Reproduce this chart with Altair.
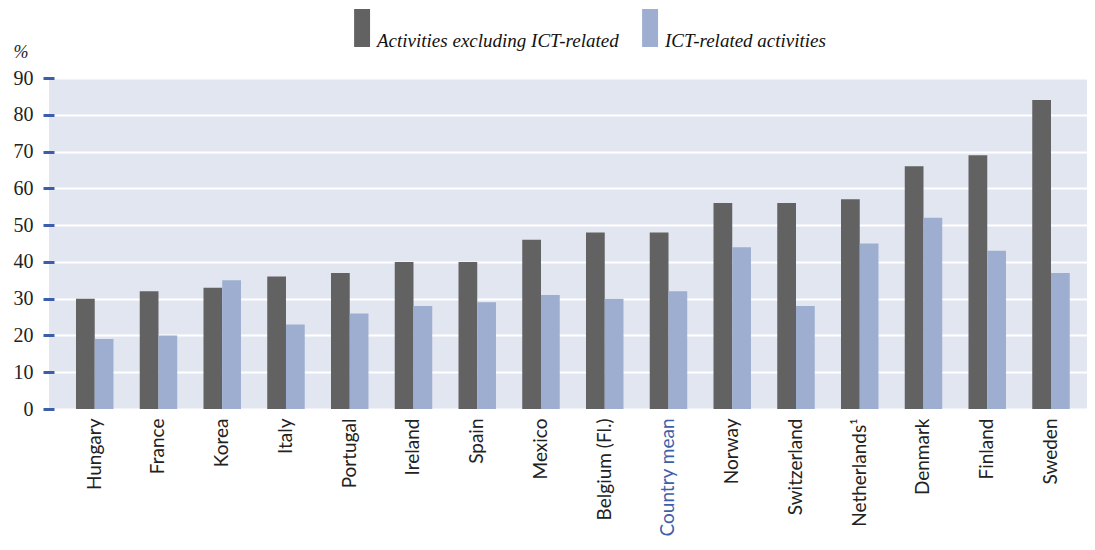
import altair as alt
import pandas as pd

countries = ["Hungary", "France", "Korea", "Italy", "Portugal", "Ireland", "Spain",
             "Mexico", "Belgium (Fl.)", "Country mean", "Norway", "Switzerland",
             "Netherlands¹", "Denmark", "Finland", "Sweden"]
excl_ict = [30, 32, 33, 36, 37, 40, 40, 46, 48, 48, 56, 56, 57, 66, 69, 84]
ict = [19, 20, 35, 23, 26, 28, 29, 31, 30, 32, 44, 28, 45, 52, 43, 37]
series = ["Activities excluding ICT-related", "ICT-related activities"]
colors = ["#626262", "#9eaed0"]
y_ticks = [0, 10, 20, 30, 40, 50, 60, 70, 80, 90]

rows = []
for c, a, b in zip(countries, excl_ict, ict):
    rows.append({"country": c, "series": series[0], "value": a})
    rows.append({"country": c, "series": series[1], "value": b})
df = pd.DataFrame(rows)

label_color = "datum.value == 'Country mean' ? '#3d5fa9' : '#222222'"

chart = alt.Chart(df).mark_bar().encode(
    x=alt.X("country:N", sort=countries, title=None,
            scale=alt.Scale(paddingInner=0.412, paddingOuter=0.347, align=0.61),
            axis=alt.Axis(labelAngle=-90, labelAlign="right", labelBaseline="middle",
                          labelPadding=9, ticks=False, domain=False, labelFont="Lato",
                          labelFontSize=19, labelColor=alt.ExprRef(label_color),
                          labelLimit=300)),
    xOffset=alt.XOffset("series:N", sort=series,
                        scale=alt.Scale(paddingInner=0, paddingOuter=0)),
    y=alt.Y("value:Q", title="%",
            scale=alt.Scale(domain=[0, 90], nice=False),
            axis=alt.Axis(values=y_ticks, domain=False, tickColor="#3d5fa9", tickWidth=3,
                          tickSize=11, offset=-5, labelPadding=10,
                          labelFont="Liberation Serif", labelFontSize=20, labelColor="#222222",
                          grid=True, gridColor="#ffffff", gridWidth=2,
                          titleAngle=0, titleX=-41, titleY=-21, titleAlign="left",
                          titleBaseline="alphabetic", titleFont="Liberation Serif",
                          titleFontStyle="italic", titleFontWeight="normal",
                          titleFontSize=18, titleColor="#222222")),
    color=alt.Color("series:N", sort=series,
                    scale=alt.Scale(domain=series, range=colors),
                    legend=alt.Legend(title=None, orient="none", legendX=288, legendY=-50,
                                      direction="horizontal", columns=2,
                                      symbolType="M-0.1,-2L0.74,-2L0.74,0L-0.1,0Z",
                                      symbolSize=1444, symbolStrokeWidth=0,
                                      labelFont="Liberation Serif", labelFontStyle="italic",
                                      labelFontSize=19, labelColor="#111111",
                                      labelBaseline="alphabetic", labelOffset=2,
                                      labelLimit=400, columnPadding=6, padding=0)),
).properties(
    width=1038, height=331,
    autosize=alt.AutoSizeParams(type="none"),
    padding={"left": 41, "top": 70, "right": 0, "bottom": 133},
    background="#ffffff",
).configure_view(fill="#e2e6f1", stroke=None)

chart.save("out.html", embed_options={"renderer": "svg", "actions": False})
